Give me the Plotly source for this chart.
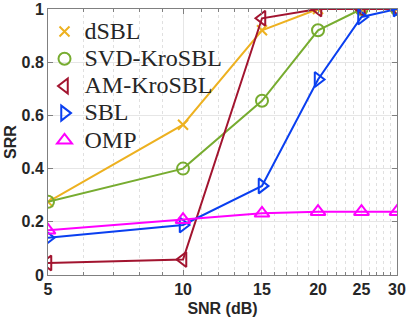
import plotly.graph_objects as go

snr = [5, 10, 15, 20, 25, 30]
dsbl = [0.275, 0.565, 0.92, 1.0, 1.0, 1.0]
svd_krosbl = [0.275, 0.40, 0.655, 0.92, 1.0, 1.0]
am_krosbl = [0.045, 0.058, 0.965, 1.0, 1.0, 1.0]
sbl = [0.14, 0.188, 0.335, 0.735, 0.97, 1.0]
omp = [0.168, 0.208, 0.232, 0.238, 0.238, 0.238]

series = [
    ('dSBL', dsbl, '#EDB120', 'x-thin-open', 10),
    ('SVD-KroSBL', svd_krosbl, '#77AC30', 'circle-open', 12),
    ('AM-KroSBL', am_krosbl, '#A2142F', 'triangle-left-open', 13),
    ('SBL', sbl, '#0A3FF0', 'triangle-right-open', 13),
    ('OMP', omp, '#FF00FF', 'triangle-up-open', 13),
]

fig = go.Figure()

for name, vals, col, sym, sz in series:
    fig.add_trace(go.Scatter(x=snr, y=vals, mode='lines+markers', showlegend=False,
                             line=dict(color=col, width=2),
                             marker=dict(symbol=sym, size=sz, color=col, line=dict(width=2, color=col))))
# legend entries show only the marker; bigger text via span so rows stay tight
for name, vals, col, sym, sz in series:
    fig.add_trace(go.Scatter(x=[None], y=[None], mode='markers',
                             name='<span style="font-size:24px">%s</span>' % name,
                             marker=dict(symbol=sym, size=sz, color=col, line=dict(width=2, color=col))))

minor_vals = [6, 7, 8, 9, 11, 12, 13, 14, 16, 17, 18, 19, 21, 22, 23, 24, 26, 27, 28, 29]

fig.update_layout(
    width=407, height=322,
    margin=dict(l=48, r=10, t=9, b=47),
    plot_bgcolor='white',
    paper_bgcolor='white',
    font=dict(family='Liberation Sans', color='#262626'),
    xaxis=dict(
        type='log',
        range=[0.69897, 1.4771],
        tickvals=snr,
        ticktext=[str(v) for v in snr],
        tickfont=dict(size=16, weight='bold', color='#262626'),
        title=dict(text='SNR (dB)', font=dict(size=16, weight='bold'), standoff=5),
        automargin=False,
        showline=True, mirror='ticks', linecolor='#808080', linewidth=1,
        ticks='inside', ticklen=5, tickcolor='#808080',
        showgrid=True, gridcolor='#E6E6E6',
        minor=dict(tickvals=minor_vals, ticks='inside', ticklen=3, tickcolor='#808080',
                   showgrid=True, gridcolor='#E0E0E0', griddash='dot'),
        zeroline=False,
    ),
    yaxis=dict(
        range=[0, 1],
        tickvals=[0, 0.2, 0.4, 0.6, 0.8, 1],
        ticktext=['0', '0.2', '0.4', '0.6', '0.8', '1'],
        tickfont=dict(size=16, weight='bold', color='#262626'),
        title=dict(text='SRR', font=dict(size=16, weight='bold'), standoff=0),
        automargin=False,
        showline=True, mirror='ticks', linecolor='#808080', linewidth=1,
        ticks='inside', ticklen=5, tickcolor='#808080',
        showgrid=True, gridcolor='#E6E6E6',
        zeroline=False,
    ),
    legend=dict(
        x=-0.01, y=0.985, xanchor='left', yanchor='top',
        bgcolor='rgba(255,255,255,0)',
        font=dict(family='Liberation Serif', size=18.6, color='#262626'),
        tracegroupgap=0, itemwidth=30,
    ),
)

fig.write_html("out.html", config={'displayModeBar': False},
               post_script="document.body.style.margin='0px';")
